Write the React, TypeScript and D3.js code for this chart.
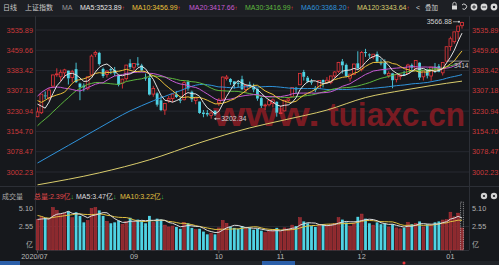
import React from 'react';
import * as d3 from 'd3';

// ---------- data ----------
const monthLabels = ['2020/07', '09', '10', '11', '12', '01'];
const monthIndex = [0, 25, 47, 63, 84, 107];

const priceTicks = [3535.89, 3459.66, 3383.42, 3307.18, 3230.94, 3154.70, 3078.47, 3002.23];
const volTicks = [5.10, 2.55];

// closes before the visible window (for moving averages)
const leadCloses = [2890, 2931, 2935, 2939, 2967, 2965, 2979, 2980, 2962, 2985, 3025, 3091, 3153, 3333, 3345, 3403, 3451, 3384, 3443, 3415, 3361, 3210, 3214, 3314, 3320, 3333, 3325, 3196, 3205];
const leadVolumes = [4.6, 5.0, 3.9, 3.8, 3.6, 3.4, 3.3, 3.6, 3.0];

const dayOpen = [3210, 3225, 3290, 3280, 3325, 3370, 3360, 3375, 3383, 3357,
  3389, 3335, 3327, 3315, 3367, 3445, 3450, 3390, 3369, 3389,
  3386, 3366, 3336, 3353, 3411, 3396, 3410, 3403, 3357, 3356,
  3295, 3298, 3272, 3235, 3272, 3278, 3294, 3275, 3274, 3341,
  3304, 3271, 3267, 3226, 3224, 3215, 3233, 3262, 3276, 3354,
  3352, 3343, 3337, 3351, 3312, 3331, 3323, 3315, 3280, 3252,
  3255, 3260, 3266, 3222, 3232, 3271, 3286, 3319, 3330, 3378,
  3357, 3343, 3319, 3317, 3348, 3339, 3339, 3363, 3381, 3418,
  3405, 3355, 3369, 3411, 3388, 3453, 3444, 3435, 3446, 3413,
  3412, 3365, 3373, 3350, 3361, 3370, 3372, 3404, 3392, 3413,
  3360, 3387, 3363, 3398, 3400, 3375, 3419, 3474, 3492, 3530,
  3552];
const dayHigh = [3245, 3295, 3305, 3318, 3368, 3392, 3387, 3390, 3384, 3386,
  3413, 3338, 3335, 3362, 3444, 3458, 3454, 3395, 3385, 3395,
  3397, 3368, 3353, 3405, 3426, 3411, 3434, 3409, 3372, 3367,
  3326, 3302, 3287, 3262, 3288, 3296, 3306, 3286, 3344, 3347,
  3308, 3283, 3268, 3235, 3235, 3233, 3233, 3280, 3361, 3367,
  3355, 3344, 3347, 3364, 3329, 3342, 3334, 3317, 3284, 3259,
  3274, 3279, 3268, 3252, 3272, 3282, 3320, 3322, 3373, 3386,
  3363, 3352, 3325, 3347, 3350, 3359, 3364, 3381, 3416, 3427,
  3410, 3372, 3409, 3456, 3457, 3465, 3448, 3446, 3455, 3428,
  3426, 3381, 3375, 3370, 3369, 3382, 3409, 3410, 3421, 3415,
  3385, 3391, 3397, 3412, 3408, 3415, 3474, 3511, 3529, 3551,
  3566.88];
const dayLow = [3208, 3220, 3275, 3270, 3320, 3360, 3343, 3355, 3331, 3340,
  3337, 3272, 3305, 3310, 3362, 3434, 3402, 3356, 3357, 3370,
  3363, 3324, 3316, 3345, 3388, 3384, 3398, 3378, 3345, 3290,
  3285, 3248, 3231, 3217, 3262, 3264, 3280, 3261, 3271, 3308,
  3265, 3257, 3221, 3208, 3211, 3202.34, 3213, 3250, 3270, 3346,
  3330, 3316, 3320, 3310, 3300, 3320, 3302, 3270, 3243, 3235,
  3249, 3245, 3210, 3220, 3230, 3264, 3286, 3296, 3330, 3346,
  3337, 3330, 3302, 3314, 3320, 3334, 3332, 3356, 3375, 3372,
  3358, 3342, 3366, 3387, 3380, 3435, 3431, 3426, 3413, 3403,
  3368, 3356, 3317, 3339, 3349, 3363, 3372, 3381, 3386, 3348,
  3346, 3354, 3345, 3374, 3377, 3365, 3415, 3458, 3484, 3501,
  3541];
const dayClose = [3228, 3295, 3287, 3310, 3367, 3371, 3377, 3386, 3354, 3379,
  3340, 3320, 3320, 3360, 3438, 3451, 3408, 3363, 3381, 3385,
  3373, 3330, 3351, 3404, 3396, 3410, 3405, 3384, 3355, 3293,
  3316, 3255, 3235, 3260, 3278, 3295, 3284, 3270, 3338, 3316,
  3275, 3280, 3224, 3220, 3218, 3224, 3218, 3272, 3359, 3359,
  3340, 3332, 3336, 3313, 3328, 3325, 3312, 3278, 3251, 3254,
  3270, 3273, 3225, 3225, 3272, 3277, 3320, 3312, 3373, 3360,
  3342, 3338, 3310, 3346, 3339, 3347, 3363, 3378, 3414, 3403,
  3363, 3370, 3408, 3392, 3451, 3449, 3443, 3445, 3417, 3410,
  3371, 3373, 3347, 3369, 3367, 3367, 3404, 3394, 3421, 3357,
  3383, 3364, 3397, 3397, 3379, 3414, 3473, 3503, 3529, 3551,
  3564];
const volumes = [3.3, 3.6, 3.5, 3.4, 4.6, 4.3, 3.9, 4.0, 4.2, 3.5,
  4.1, 3.7, 3.0, 3.2, 4.5, 4.6, 4.3, 3.7, 3.1, 2.9,
  3.0, 3.2, 2.8, 3.1, 3.5, 3.0, 3.3, 3.2, 2.9, 3.7,
  3.0, 3.4, 3.3, 2.7, 2.5, 2.6, 2.5, 2.3, 3.0, 2.9,
  2.4, 2.2, 2.3, 2.0, 1.7, 1.8, 1.7, 2.4, 3.2, 2.9,
  2.5, 2.4, 2.3, 2.6, 2.3, 2.4, 2.2, 2.3, 2.1, 1.9,
  2.0, 2.1, 2.4, 2.0, 2.4, 2.3, 2.7, 2.6, 3.5, 3.1,
  2.9, 2.6, 2.5, 2.7, 2.8, 2.6, 2.8, 2.9, 3.5, 3.3,
  3.0, 2.6, 2.9, 3.6, 3.9, 3.4, 2.9, 2.7, 3.0, 2.8,
  2.9, 2.5, 2.8, 2.4, 2.3, 2.4, 3.0, 2.8, 2.9, 3.1,
  2.5, 2.8, 2.7, 3.0, 3.1, 3.25, 3.3, 4.1, 3.6, 4.0,
  2.39];
const projectedVolume = 5.2;

// long averages read from the picture where earlier history is not listed
const ma60EarlyIdx = [0, 8, 16, 24];
const ma60EarlyVal = [3036, 3102, 3168, 3232];
const ma120Idx = [0, 16, 29, 42, 55, 64, 75, 85, 95, 102, 110];
const ma120Val = [2954, 2999, 3048, 3112, 3168, 3198, 3235, 3282, 3310, 3327, 3343.64];

const maLegend = ['MA5:3523.89', 'MA10:3456.99', 'MA20:3417.66', 'MA30:3416.99', 'MA60:3368.20', 'MA120:3343.64'];
const volLegend = ['总量:2.39亿', 'MA5:3.47亿', 'MA10:3.22亿'];
const highLabel = '3566.88';
const lowLabel = '3202.34';

// ---------- style ----------
const BG = '#16181c';
const RED = '#e8363b';
const CYAN = '#4fd3e4';
const GRID = '#262930';
const AXIS_RED = '#c8383b';
const MA_COLORS = ['#e4e4e4', '#ecc23a', '#c65bd3', '#5db83e', '#2f93db', '#d9cc6c'];
const LEGEND_X = [80, 132, 189, 245, 301, 357];
const FONT = "'Liberation Sans', Arial, 'Noto Sans CJK SC', sans-serif";

function maPoints(series: number[], lead: number, k: number): [number, number][] {
  const pts: [number, number][] = [];
  for (let i = 0; i < series.length - lead; i++) {
    const end = i + lead;
    if (end - k + 1 < 0) continue;
    pts.push([i, d3.mean(series.slice(end - k + 1, end + 1)) as number]);
  }
  return pts;
}

export default function App() {
  const n = dayClose.length;
  const xc = d3.scaleLinear().domain([0, n - 1]).range([37.5, 462]);
  const y = d3.scaleLinear().domain([3002.23, 3535.89]).range([172, 30]);
  const yv = d3.scaleLinear().domain([0, 5.1]).range([250, 203]);
  const bw = 2.8;

  const fullClose = leadCloses.concat(dayClose);
  const off = leadCloses.length;
  const ma5 = maPoints(fullClose, off, 5);
  const ma10 = maPoints(fullClose, off, 10);
  const ma20 = maPoints(fullClose, off, 20);
  const ma30 = maPoints(fullClose, off, 30);
  const ma60c = maPoints(fullClose, off, 60);
  const ma60: [number, number][] = ma60EarlyIdx
    .map((i, j) => [i, ma60EarlyVal[j]] as [number, number])
    .filter((p) => p[0] < ma60c[0][0])
    .concat(ma60c);
  const ma120: [number, number][] = ma120Idx.map((i, j) => [i, ma120Val[j]]);

  const lineLin = d3.line<[number, number]>().x((d) => xc(d[0])).y((d) => y(d[1]));
  const lineSmooth = d3.line<[number, number]>().x((d) => xc(d[0])).y((d) => y(d[1])).curve(d3.curveMonotoneX);

  const fullVol = leadVolumes.concat(volumes);
  const vOff = leadVolumes.length;
  const vma5 = maPoints(fullVol, vOff, 5);
  const vma10 = maPoints(fullVol, vOff, 10);
  const vLine = d3.line<[number, number]>().x((d) => xc(d[0])).y((d) => yv(d[1]));

  const hiIdx = d3.maxIndex(dayHigh);
  const loIdx = d3.minIndex(dayLow);

  const mainLines: { pts: [number, number][]; gen: any; color: string }[] = [
    { pts: ma120, gen: lineSmooth, color: MA_COLORS[5] },
    { pts: ma60, gen: lineSmooth, color: MA_COLORS[4] },
    { pts: ma30, gen: lineLin, color: MA_COLORS[3] },
    { pts: ma20, gen: lineLin, color: MA_COLORS[2] },
    { pts: ma10, gen: lineLin, color: MA_COLORS[1] },
    { pts: ma5, gen: lineLin, color: MA_COLORS[0] },
  ];

  return (
    <svg width={499} height={265} style={{ position: 'absolute', left: 0, top: 0, display: 'block' }} fontFamily={FONT}>
      <defs>
        <clipPath id="mainClip"><rect x={36} y={17} width={433} height={169} /></clipPath>
        <clipPath id="volClip"><rect x={36} y={200} width={433} height={50.5} /></clipPath>
      </defs>
      <rect x={0} y={0} width={499} height={265} fill={BG} />
      {/* header */}
      <rect x={0} y={0} width={499} height={15} fill="#1d1f24" />
      <text x={3} y={10} fontSize={7} fill="#c8c8c8">日线</text>
      <text x={25} y={10} fontSize={7} fill="#c8c8c8">上证指数</text>
      <text x={62} y={10} fontSize={7} fill="#9a9a9a">MA</text>
      {maLegend.map((t, i) => (
        <text key={t} x={LEGEND_X[i]} y={10} fontSize={7} fill={MA_COLORS[i]}>
          {t}<tspan fill={RED} fontSize={6}>↑</tspan>
        </text>
      ))}
      <text x={416} y={10} fontSize={7} fill="#d0d0d0">&lt;</text>
      <text x={425} y={10} fontSize={6.5} fill="#d0d0d0">叠加</text>
      <rect x={452} y={5.5} width={5} height={4} fill="#d8d8d8" />
      <path d="M452.8,5.5 v-1.5 a1.7,1.7 0 0 1 3.4,0 v1.5" fill="none" stroke="#d8d8d8" strokeWidth={0.8} />
      <path d="M462,5 a2.6,2.6 0 1 1 0.5,3.8" fill="none" stroke="#d8d8d8" strokeWidth={1} />
      <circle cx={474} cy={7} r={3.4} fill="#d8d8d8" />
      <path d="M472,7 h4 M474,5 v4" stroke="#1d1f24" strokeWidth={0.9} />
      <circle cx={484} cy={7} r={3.4} fill="#d8d8d8" />
      <path d="M482,7 h4" stroke="#1d1f24" strokeWidth={0.9} />
      <circle cx={494} cy={7} r={3.4} fill="#d8d8d8" />
      <circle cx={494} cy={7} r={1.2} fill="#1d1f24" />

      {/* main grid */}
      {priceTicks.map((t) => (
        <line key={t} x1={36} x2={469} y1={y(t)} y2={y(t)} stroke={GRID} strokeWidth={1} />
      ))}
      <line x1={35.5} x2={35.5} y1={16} y2={250} stroke="#2c2f36" />
      <line x1={469.5} x2={469.5} y1={16} y2={250} stroke="#2c2f36" />
      <line x1={0} x2={499} y1={186.5} y2={186.5} stroke="#2c2f36" />
      <line x1={0} x2={499} y1={16} y2={16} stroke="#2a2d33" />

      {/* watermark (behind marks) */}
      <g fill="#9a1c25" opacity={0.75} fontWeight="bold" fontFamily="'Liberation Sans', Arial, sans-serif" fontSize={34}>
        <text transform="translate(213,126) scale(1.22,1)">www.</text>
        <text transform="translate(328,126) scale(0.93,1)">tuiaxc.cn</text>
      </g>

      {/* candles */}
      <g clipPath="url(#mainClip)">
        {dayClose.map((c, i) => {
          const o = dayOpen[i];
          const up = c >= o;
          const col = up ? RED : CYAN;
          const cx = xc(i);
          const top = y(Math.max(o, c));
          const bot = y(Math.min(o, c));
          return (
            <g key={i}>
              <line x1={cx} x2={cx} y1={y(dayHigh[i])} y2={top} stroke={col} strokeWidth={0.9} />
              <line x1={cx} x2={cx} y1={bot} y2={y(dayLow[i])} stroke={col} strokeWidth={0.9} />
              <rect x={cx - bw / 2} y={top} width={bw} height={Math.max(bot - top, 0.9)}
                fill={up ? BG : col} stroke={up ? col : 'none'} strokeWidth={0.8} />
            </g>
          );
        })}
        {mainLines.map((l, i) => (
          <path key={i} d={l.gen(l.pts) || ''} fill="none" stroke={l.color} strokeWidth={1} />
        ))}
        {/* high / low markers */}
        <text x={xc(hiIdx) - 10} y={y(dayHigh[hiIdx]) + 2.5} fontSize={7} fill="#cfcfcf" textAnchor="end">{highLabel}</text>
        <line x1={xc(hiIdx) - 9} x2={xc(hiIdx) - 3} y1={y(dayHigh[hiIdx])} y2={y(dayHigh[hiIdx])} stroke="#cfcfcf" strokeWidth={0.7} />
        <circle cx={xc(hiIdx) - 3} cy={y(dayHigh[hiIdx])} r={1} fill="#cfcfcf" />
        <line x1={xc(loIdx) + 3} x2={xc(loIdx) + 9} y1={y(dayLow[loIdx])} y2={y(dayLow[loIdx])} stroke="#cfcfcf" strokeWidth={0.7} />
        <path d={`M${xc(loIdx) + 3},${y(dayLow[loIdx])} l2,-1.5 v3 z`} fill="#cfcfcf" />
        <text x={xc(loIdx) + 10} y={y(dayLow[loIdx]) + 2.5} fontSize={7} fill="#cfcfcf">{lowLabel}</text>
        <line x1={447} x2={469} y1={y(3419)} y2={y(3419)} stroke="#a8a8a8" strokeWidth={0.8} />
        <text x={454} y={y(3419) + 7} fontSize={6.5} fill="#c8c8c8">3414.</text>
      </g>

      {/* price axis labels */}
      {priceTicks.map((t) => (
        <g key={'l' + t}>
          <text x={33} y={y(t) + 2.5} fontSize={7.3} fill={AXIS_RED} textAnchor="end">{t.toFixed(2)}</text>
          <text x={472} y={y(t) + 2.5} fontSize={7.3} fill={AXIS_RED}>{t.toFixed(2)}</text>
        </g>
      ))}

      {/* volume header */}
      <text x={2} y={199} fontSize={7} fill="#a8a8a8">成交量</text>
      <text x={34} y={199} fontSize={7} fill="#e0484a">{volLegend[0]}<tspan fill="#3fbf4a">↓</tspan></text>
      <text x={76} y={199} fontSize={7} fill="#dcdcdc">{volLegend[1]}<tspan fill="#3fbf4a">↓</tspan></text>
      <text x={120} y={199} fontSize={7} fill="#e0c040">{volLegend[2]}<tspan fill="#3fbf4a">↓</tspan></text>
      <circle cx={484} cy={196} r={3.2} fill="#d0d0d0" />
      <circle cx={484} cy={196} r={1.1} fill={BG} />
      <circle cx={494} cy={196} r={3.2} fill="#d0d0d0" />
      <circle cx={494} cy={196} r={1.1} fill={BG} />

      {/* volume panel */}
      <line x1={36} x2={469} y1={yv(2.55)} y2={yv(2.55)} stroke={GRID} />
      <line x1={36} x2={469} y1={250.5} y2={250.5} stroke="#2c2f36" />
      {volTicks.map((t) => (
        <g key={'v' + t}>
          <text x={33} y={yv(t) + (t === 5.1 ? 7.5 : 2.5)} fontSize={7.3} fill="#b0b0b0" textAnchor="end">{t.toFixed(2)}</text>
          <text x={472} y={yv(t) + (t === 5.1 ? 7.5 : 2.5)} fontSize={7.3} fill="#b0b0b0">{t.toFixed(2)}</text>
        </g>
      ))}
      <text x={33} y={247} fontSize={7} fill="#b0b0b0" textAnchor="end">亿</text>
      <text x={472} y={247} fontSize={7} fill="#b0b0b0">亿</text>
      <g clipPath="url(#volClip)">
        {volumes.map((v, i) => {
          const up = dayClose[i] >= dayOpen[i];
          return (
            <rect key={i} x={xc(i) - bw / 2} y={yv(v)} width={bw} height={yv(0) - yv(v)}
              fill={up ? '#8c2a2e' : CYAN} stroke={up ? '#b8333a' : 'none'} strokeWidth={0.5} />
          );
        })}
        <rect x={xc(n - 1) - bw / 2} y={yv(projectedVolume)} width={bw} height={yv(0) - yv(projectedVolume)}
          fill="none" stroke="#d8d8d8" strokeWidth={0.6} strokeDasharray="1.2,1" />
        <path d={vLine(vma10) || ''} fill="none" stroke="#e0c040" strokeWidth={1} />
        <path d={vLine(vma5) || ''} fill="none" stroke="#dcdcdc" strokeWidth={1} />
      </g>

      {/* x axis */}
      {monthLabels.map((m, j) => (
        <g key={m}>
          <line x1={xc(monthIndex[j])} x2={xc(monthIndex[j])} y1={250.5} y2={253} stroke="#555" />
          <text x={j === 0 ? xc(monthIndex[j]) - 3 : xc(monthIndex[j])} y={259} fontSize={7.3} fill="#b8b8b8" textAnchor="middle">{m}</text>
        </g>
      ))}

      {/* bottom strip */}
      <rect x={0} y={261} width={499} height={4} fill="#202328" />
      <rect x={0} y={261} width={20} height={4} fill="#2b5fa8" />
      <rect x={262} y={261} width={33} height={4} fill="#2b5fa8" />
      <circle cx={404} cy={263} r={1.5} fill={RED} />
    </svg>
  );
}
